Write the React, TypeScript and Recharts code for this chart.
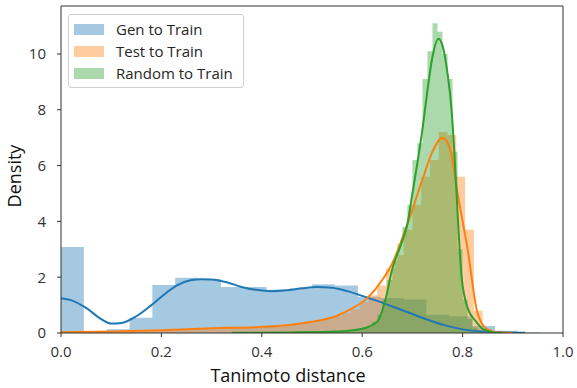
import {
  ComposedChart, Area, Line, XAxis, YAxis, ReferenceLine, Legend,
} from 'recharts';

const FONT = '"Open Sans", "DejaVu Sans", sans-serif';
const Y_MAX = 11.72;

const COLORS = { gen: '#1f77b4', test: '#ff7f0e', random: '#2ca02c' };
const SERIES_NAMES = ['Gen to Train', 'Test to Train', 'Random to Train'];

const X_TICKS = [0, 0.2, 0.4, 0.6, 0.8, 1.0];
const Y_TICKS = [0, 2, 4, 6, 8, 10];

// histogram bins: first edge, bin width, heights
const GEN_START = 0;
const GEN_WIDTH = 0.0455;
const genHist = [
  3.08, 0.04, 0.13, 0.55, 1.72, 1.98, 1.93, 1.65, 1.65, 1.55, 1.6,
  1.75, 1.7, 1.3, 1.25, 1.2, 0.65, 0.6, 0.25, 0.08, 0.02,
];

const TEST_START = 0;
const TEST_WIDTH = 0.0175;
const testHist = [
  0.03, 0.03, 0.04, 0.04, 0.05, 0.05, 0.06, 0.07, 0.08, 0.09,
  0.1, 0.11, 0.12, 0.13, 0.14, 0.15, 0.16, 0.17, 0.17, 0.18,
  0.19, 0.2, 0.21, 0.22, 0.24, 0.26, 0.3, 0.34, 0.38, 0.45,
  0.52, 0.6, 0.72, 0.85, 1.1, 1.35, 1.7, 2.3, 2.8, 3.7,
  4.6, 5.6, 6.2, 7.2, 7.1, 5.6, 3.7, 0.8, 0.15, 0.04, 0.01,
];

const RANDOM_START = 0.5;
const RANDOM_WIDTH = 0.01;
const randomHist = [
  0.03, 0.03, 0.04, 0.05, 0.05, 0.06, 0.08, 0.09, 0.1, 0.12,
  0.15, 0.2, 0.4, 0.65, 1.2, 1.9, 2.6, 3.2, 3.8, 4.6,
  6.2, 6.8, 9.1, 10.1, 11.1, 10.8, 10.0, 9.1, 6.5, 3.0,
  1.2, 0.5, 0.2, 0.05,
];

// KDE curves
const genKde = [
  { x: 0, y: 1.25 }, { x: 0.02, y: 1.18 }, { x: 0.05, y: 0.9 }, { x: 0.08, y: 0.5 },
  { x: 0.1, y: 0.34 }, { x: 0.12, y: 0.36 }, { x: 0.15, y: 0.6 }, { x: 0.18, y: 1.0 },
  { x: 0.2, y: 1.3 }, { x: 0.23, y: 1.7 }, { x: 0.26, y: 1.9 }, { x: 0.28, y: 1.93 },
  { x: 0.3, y: 1.92 }, { x: 0.33, y: 1.82 }, { x: 0.36, y: 1.65 }, { x: 0.4, y: 1.52 },
  { x: 0.42, y: 1.5 }, { x: 0.45, y: 1.53 }, { x: 0.48, y: 1.6 }, { x: 0.51, y: 1.65 },
  { x: 0.54, y: 1.62 }, { x: 0.57, y: 1.5 }, { x: 0.6, y: 1.33 }, { x: 0.63, y: 1.15 },
  { x: 0.66, y: 0.95 }, { x: 0.7, y: 0.68 }, { x: 0.73, y: 0.48 }, { x: 0.76, y: 0.3 },
  { x: 0.8, y: 0.13 }, { x: 0.84, y: 0.05 }, { x: 0.88, y: 0.02 }, { x: 0.925, y: 0.005 },
];

const testKde = [
  { x: 0, y: 0.03 }, { x: 0.1, y: 0.05 }, { x: 0.2, y: 0.1 }, { x: 0.3, y: 0.17 },
  { x: 0.4, y: 0.22 }, { x: 0.45, y: 0.28 }, { x: 0.5, y: 0.4 }, { x: 0.55, y: 0.62 },
  { x: 0.58, y: 0.88 }, { x: 0.61, y: 1.25 }, { x: 0.64, y: 1.9 }, { x: 0.66, y: 2.5 },
  { x: 0.69, y: 3.9 }, { x: 0.72, y: 5.5 }, { x: 0.74, y: 6.5 }, { x: 0.76, y: 7.0 },
  { x: 0.775, y: 6.6 }, { x: 0.79, y: 5.0 }, { x: 0.81, y: 3.0 }, { x: 0.83, y: 0.7 },
  { x: 0.85, y: 0.12 }, { x: 0.87, y: 0.02 }, { x: 0.9, y: 0.005 },
];

const randomKde = [
  { x: 0.34, y: 0.005 }, { x: 0.45, y: 0.02 }, { x: 0.55, y: 0.05 }, { x: 0.6, y: 0.15 },
  { x: 0.63, y: 0.4 }, { x: 0.645, y: 1.1 }, { x: 0.66, y: 2.3 }, { x: 0.68, y: 3.3 },
  { x: 0.69, y: 3.9 }, { x: 0.7, y: 5.0 }, { x: 0.71, y: 6.1 }, { x: 0.72, y: 7.3 },
  { x: 0.73, y: 8.7 }, { x: 0.74, y: 9.9 }, { x: 0.752, y: 10.55 }, { x: 0.76, y: 10.3 },
  { x: 0.77, y: 9.3 }, { x: 0.778, y: 8.0 }, { x: 0.785, y: 6.0 }, { x: 0.79, y: 4.3 },
  { x: 0.798, y: 2.0 }, { x: 0.81, y: 0.9 }, { x: 0.825, y: 0.45 }, { x: 0.84, y: 0.15 },
  { x: 0.86, y: 0.03 }, { x: 0.88, y: 0.0 },
];

function toSteps(start: number, width: number, heights: number[]) {
  const rows = heights.map((h, i) => ({ x: start + i * width, y: h }));
  rows.push({ x: start + heights.length * width, y: heights[heights.length - 1] });
  return rows;
}

const LegendBox = () => (
  <div
    style={{
      border: '1px solid #d0d0d0', borderRadius: 3, background: 'rgba(255,255,255,0.8)',
      padding: '3px 10px 3px 5px', fontFamily: FONT, fontSize: 15, color: '#262626',
    }}
  >
    {[COLORS.gen, COLORS.test, COLORS.random].map((c, i) => (
      <div key={i} style={{ display: 'flex', alignItems: 'center', height: 22 }}>
        <span style={{ width: 30, height: 11, background: c, opacity: 0.4, marginRight: 12 }} />
        <span>{SERIES_NAMES[i]}</span>
      </div>
    ))}
  </div>
);

const tickStyle = { fontSize: 15, fill: '#333', fontFamily: FONT };

export default function App() {
  return (
    <div style={{ position: 'absolute', left: 0, top: 0, background: '#fff' }}>
      <ComposedChart width={577} height={388} margin={{ top: 6, right: 14, left: 0, bottom: 0 }}>
        <XAxis
          dataKey="x"
          type="number"
          domain={[0, 1]}
          ticks={X_TICKS}
          tickFormatter={(v: number) => v.toFixed(1)}
          tick={tickStyle}
          tickSize={4}
          tickMargin={9}
          stroke="#333"
          height={55}
          allowDataOverflow
          label={{
            content: () => (
              <text x={288} y={382} textAnchor="middle" fontSize={18} fontFamily={FONT} fill="#111">
                Tanimoto distance
              </text>
            ),
          }}
        />
        <YAxis
          type="number"
          domain={[0, Y_MAX]}
          ticks={Y_TICKS}
          tick={tickStyle}
          tickSize={4}
          tickMargin={11}
          stroke="#333"
          width={61}
          allowDataOverflow
          label={{
            content: () => (
              <text
                x={14}
                y={176}
                transform="rotate(-90 14 176)"
                textAnchor="middle"
                dominantBaseline="central"
                fontSize={18}
                fontFamily={FONT}
                fill="#111"
              >
                Density
              </text>
            ),
          }}
        />
        <Legend
          layout="vertical"
          align="center"
          verticalAlign="middle"
          content={() => <LegendBox />}
          wrapperStyle={{ left: 68, top: 14, width: 'auto' }}
        />
        <ReferenceLine y={Y_MAX} stroke="#333" />
        <ReferenceLine x={1} stroke="#333" />

        <Area
          data={toSteps(GEN_START, GEN_WIDTH, genHist)}
          dataKey="y"
          type="stepAfter"
          stroke="none"
          fill={COLORS.gen}
          fillOpacity={0.4}
          isAnimationActive={false}
        />
        <Line
          data={genKde}
          dataKey="y"
          type="monotone"
          stroke={COLORS.gen}
          strokeWidth={2}
          dot={false}
          isAnimationActive={false}
        />
        <Area
          data={toSteps(TEST_START, TEST_WIDTH, testHist)}
          dataKey="y"
          type="stepAfter"
          stroke="none"
          fill={COLORS.test}
          fillOpacity={0.4}
          isAnimationActive={false}
        />
        <Line
          data={testKde}
          dataKey="y"
          type="monotone"
          stroke={COLORS.test}
          strokeWidth={2}
          dot={false}
          isAnimationActive={false}
        />
        <Area
          data={toSteps(RANDOM_START, RANDOM_WIDTH, randomHist)}
          dataKey="y"
          type="stepAfter"
          stroke="none"
          fill={COLORS.random}
          fillOpacity={0.4}
          isAnimationActive={false}
        />
        <Line
          data={randomKde}
          dataKey="y"
          type="monotone"
          stroke={COLORS.random}
          strokeWidth={2}
          dot={false}
          isAnimationActive={false}
        />
      </ComposedChart>
    </div>
  );
}
